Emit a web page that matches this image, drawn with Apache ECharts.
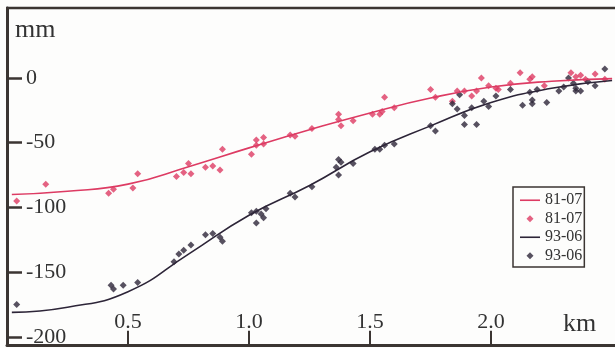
<!DOCTYPE html>
<html>
<head>
<meta charset="utf-8">
<script src="https://cdn.jsdelivr.net/npm/echarts@6/dist/echarts.min.js"></script>
<style>
  html, body { margin: 0; padding: 0; background: #fdfdfc; }
  #chart { width: 615px; height: 348px; }
</style>
</head>
<body>
<div id="chart"></div>
<script>
// tick values on the axes
const kmTicks = [0.5, 1.0, 1.5, 2.0];
const mmTicks = [-200, -150, -100, -50, 0];

// fitted curves [km, mm]
const redCurve = [[0.02, -90], [0.25, -87.5], [0.5, -82], [0.75, -68.5], [1.0, -54], [1.25, -40], [1.5, -27], [1.75, -15.5], [2.0, -7], [2.25, -2.5], [2.5, -0.5]];
const darkCurve = [[0.02, -181], [0.25, -177], [0.5, -165], [0.75, -136], [1.0, -106], [1.25, -83], [1.5, -57], [1.75, -37], [2.0, -19], [2.25, -8], [2.5, -2]];

// measured points [km, mm]
const redPts = [
  [0.04, -95], [0.16, -82], [0.42, -89], [0.44, -86], [0.52, -85], [0.54, -74],
  [0.70, -76], [0.73, -73], [0.75, -66], [0.76, -74], [0.82, -69], [0.85, -68], [0.88, -71], [0.89, -55],
  [1.01, -59], [1.03, -52], [1.03, -48], [1.06, -46], [1.06, -51], [1.17, -44], [1.19, -45],
  [1.26, -39], [1.37, -28], [1.37, -32], [1.38, -37], [1.43, -33], [1.51, -28], [1.54, -28], [1.55, -26], [1.56, -15], [1.60, -23],
  [1.75, -9], [1.77, -15], [1.84, -18], [1.86, -10], [1.89, -10], [1.92, -14], [1.94, -10], [1.96, 0], [1.99, -6], [2.02, -8], [2.03, -9],
  [2.08, -4], [2.12, 4], [2.16, -1], [2.17, 1], [2.22, -6], [2.33, 4], [2.35, 1], [2.37, 2], [2.39, -1], [2.43, 3], [2.47, -1]
];
const darkPts = [
  [0.04, -175], [0.43, -160], [0.44, -163], [0.48, -160], [0.54, -158],
  [0.69, -142], [0.71, -136], [0.73, -133], [0.76, -129], [0.82, -121], [0.85, -120], [0.88, -123], [0.89, -126],
  [1.01, -104], [1.03, -112], [1.03, -103], [1.05, -105], [1.06, -108], [1.07, -101], [1.17, -89], [1.19, -92],
  [1.26, -84], [1.36, -69], [1.37, -63], [1.37, -75], [1.38, -65], [1.43, -66], [1.52, -55], [1.54, -55], [1.56, -52], [1.60, -51],
  [1.75, -37], [1.77, -41], [1.84, -20], [1.86, -24], [1.87, -13], [1.89, -29], [1.89, -36], [1.92, -23], [1.94, -36], [1.97, -18], [1.99, -22],
  [2.02, -14], [2.08, -9], [2.13, -21], [2.16, -11], [2.17, -17], [2.17, -20], [2.19, -9], [2.23, -19], [2.28, -10], [2.30, -7],
  [2.32, 0], [2.34, -4], [2.35, -8], [2.35, -10], [2.37, -10], [2.40, -3], [2.43, -6], [2.47, 7]
];

const red = "#dd3b63";
const dark = "#2d2538";
const axisCol = "#3b3532";
const serif = "'Liberation Serif', 'DejaVu Serif', serif";
const lineIcon = "path://M0,0 L20,0 L20,1.6 L0,1.6 Z";
const dotIcon = "path://M0,-1 L1,0 L0,1 L-1,0 Z";

const chart = echarts.init(document.getElementById("chart"));
chart.setOption({
  animation: false,
  backgroundColor: "#fdfdfc",
  grid: { left: 7, right: 0, top: 8, bottom: 2 },
  xAxis: {
    type: "value",
    min: 0,
    max: 2.512,
    splitLine: { show: false },
    axisLine: { onZero: false, lineStyle: { color: axisCol, width: 3 } },
    axisTick: { inside: true, length: 14, customValues: kmTicks, lineStyle: { color: axisCol, width: 2 } },
    axisLabel: {
      inside: true,
      margin: 12,
      customValues: kmTicks,
      formatter: v => v.toFixed(1),
      color: "#333",
      fontFamily: serif,
      fontSize: 22
    }
  },
  yAxis: {
    type: "value",
    min: -206,
    max: 54,
    splitLine: { show: false },
    axisLine: { onZero: false, lineStyle: { color: axisCol, width: 3 } },
    axisTick: { inside: true, length: 15, customValues: mmTicks, lineStyle: { color: axisCol, width: 2.5 } },
    axisLabel: {
      inside: true,
      margin: 19,
      customValues: mmTicks,
      color: "#333",
      fontFamily: serif,
      fontSize: 22
    }
  },
  legend: {
    orient: "vertical",
    left: 513,
    top: 187,
    padding: [4, 2, 2, 7],
    itemGap: 0,
    itemWidth: 20,
    itemHeight: 7,
    symbolKeepAspect: true,
    borderColor: axisCol,
    borderWidth: 1.5,
    formatter: name => name.split(" ")[0],
    textStyle: { fontFamily: serif, fontSize: 16, color: "#333", lineHeight: 18.5 },
    data: [
      { name: "81-07 line", icon: lineIcon },
      { name: "81-07 pts", icon: dotIcon },
      { name: "93-06 line", icon: lineIcon },
      { name: "93-06 pts", icon: dotIcon }
    ]
  },
  graphic: [
    // top frame line
    { type: "line", shape: { x1: 6, y1: 8, x2: 615, y2: 8 }, style: { stroke: axisCol, lineWidth: 2.5 } },
    { type: "text", left: 15, top: 17, style: { text: "mm", fontFamily: serif, fontSize: 26, fill: "#333" } },
    { type: "text", left: 563, top: 311, style: { text: "km", fontFamily: serif, fontSize: 26, fill: "#333" } }
  ],
  series: [
    {
      name: "81-07 line",
      type: "line",
      smooth: true,
      symbol: "none",
      data: redCurve,
      lineStyle: { color: red, width: 1.6 },
      itemStyle: { color: red }
    },
    {
      name: "81-07 pts",
      type: "scatter",
      symbol: "diamond",
      symbolSize: 7,
      data: redPts,
      itemStyle: { color: red }
    },
    {
      name: "93-06 line",
      type: "line",
      smooth: true,
      symbol: "none",
      data: darkCurve,
      lineStyle: { color: dark, width: 1.6 },
      itemStyle: { color: dark }
    },
    {
      name: "93-06 pts",
      type: "scatter",
      symbol: "diamond",
      symbolSize: 7,
      data: darkPts,
      itemStyle: { color: dark }
    }
  ]
});
</script>
</body>
</html>
